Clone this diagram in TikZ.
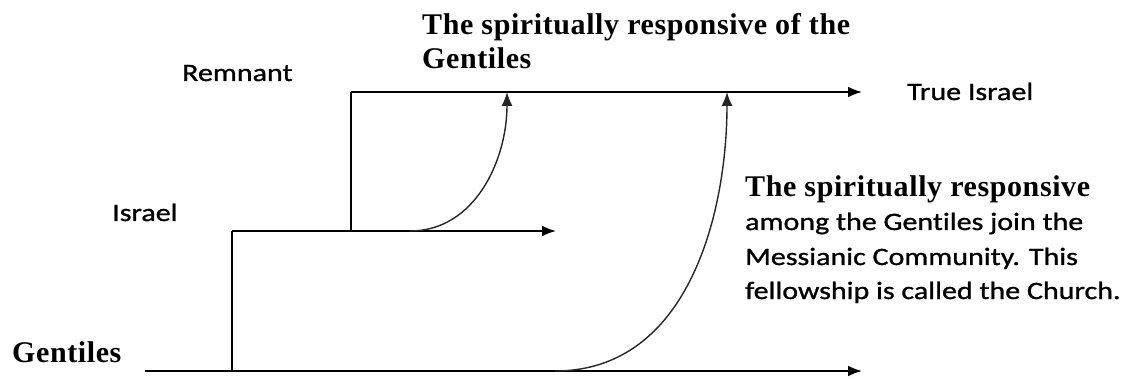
\documentclass[tikz,border=0pt]{standalone}
\usepackage{fontspec}
\setmainfont{Liberation Serif}
\newfontfamily\carlitofont[FakeStretch=1.2,FakeBold=1,Ligatures=NoCommon]{Carlito}
\usetikzlibrary{arrows.meta}
\begin{document}
\begin{tikzpicture}[x=1pt,y=-1pt,
  ln/.style={line width=2pt,black},
  arr/.style={ln,-{Latex[length=14pt,width=11pt]}},
  crv/.style={line width=1.4pt,black!85,-{Latex[length=14pt,width=11pt]}},
  sans/.style={font=\carlitofont\fontsize{25}{30}\selectfont,inner sep=0pt,anchor=base west},
  serif/.style={font=\bfseries\fontsize{30}{34}\selectfont\addfontfeature{LetterSpace=2},inner sep=0pt,anchor=base west}]
\useasboundingbox (0,0) rectangle (1134,379);
% coordinates
\coordinate (g0) at (145,371);
\coordinate (gv) at (232,371);
\coordinate (g1) at (862,371);
\coordinate (iv) at (232,231);
\coordinate (rv) at (351,231);
\coordinate (i1) at (556,231);
\coordinate (tv) at (351,92);
\coordinate (t1) at (862,92);
\coordinate (c1s) at (410,231);
\coordinate (c1e) at (507,92);
\coordinate (c2s) at (555,371);
\coordinate (c2e) at (727,92);
% lines
\draw[arr] (g0) -- (g1);
\draw[ln] (gv) -- (iv);
\draw[arr] (iv) -- (i1);
\draw[ln] (rv) -- (tv);
\draw[arr] (tv) -- (t1);
\draw[crv] (c1s) .. controls (475,231) and (507,160) .. (c1e);
\draw[crv] (c2s) .. controls (690,371) and (727,210) .. (c2e);
% labels
\node[sans] (rem) at (182,81) {Remnant};
\node[sans] (isr) at (112,221) {Israel};
\node[sans] (tru) at (907,100) {True Israel};
\node[serif] (gen) at (12,362) {Gentiles};
\node[serif] (top1) at (422,35) {The spiritually responsive of the};
\node[serif] (top2) at (422,69) {Gentiles};
\node[serif] (r1) at (745,197) {The spiritually responsive};
\node[sans] (r2) at (745,230) {among the Gentiles join the};
\node[sans] (r3) at (745,265) {Messianic Community. This};
\node[sans] (r4) at (745,299) {fellowship is called the Church.};
\end{tikzpicture}
\end{document}
